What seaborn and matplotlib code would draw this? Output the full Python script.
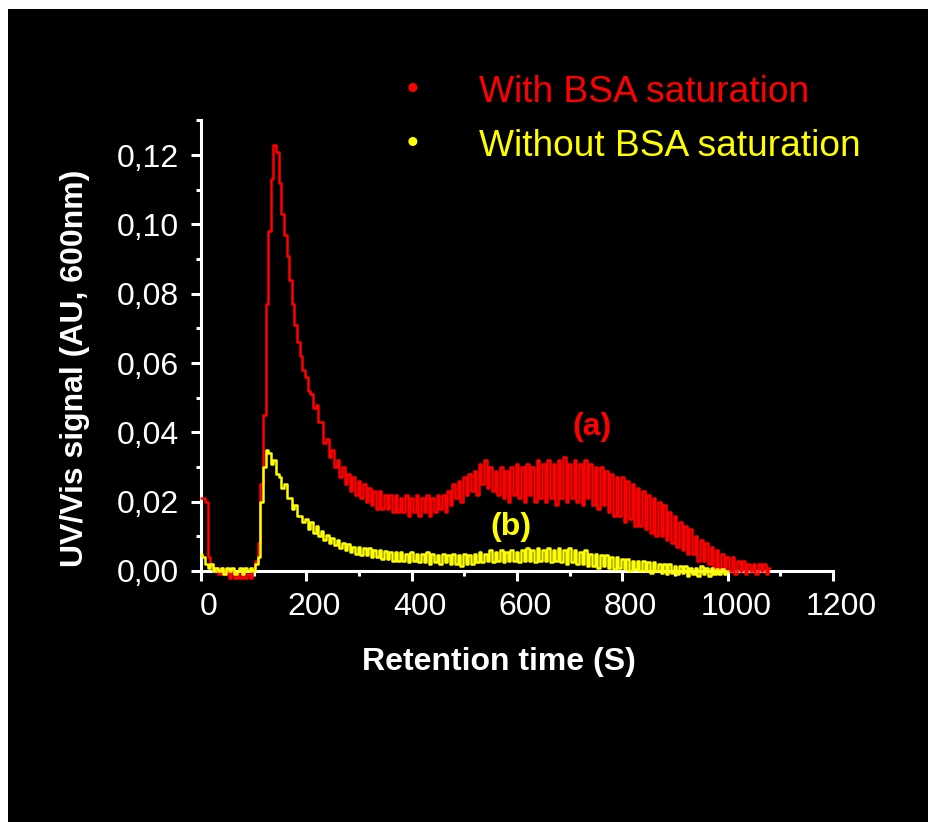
import numpy as np
import pandas as pd
import matplotlib
matplotlib.use("Agg")
import matplotlib.pyplot as plt
import seaborn as sns
from matplotlib.ticker import MultipleLocator, FuncFormatter
from matplotlib.patches import Rectangle
from matplotlib.transforms import ScaledTranslation

# Retention time (s) and UV/Vis signal (AU)
t_red = [0, 5, 10, 15, 20, 25, 30, 35, 40, 45, 50, 55, 60, 65, 70, 75, 80, 85, 90, 95,
         100, 105, 110, 115, 120, 125, 130, 135, 140, 145, 150, 155, 160, 165, 170, 175,
         180, 185, 190, 195, 200, 205, 210, 215, 220, 225, 230, 235, 240, 245, 250, 255,
         260, 265, 270, 275, 280, 285, 290, 295, 300, 305, 310, 315, 320, 325, 330, 335,
         340, 345, 350, 355, 360, 365, 370, 375, 380, 385, 390, 395, 400, 405, 410, 415,
         420, 425, 430, 435, 440, 445, 450,
         455, 460, 465, 470, 475, 480, 485, 490, 495, 500, 505, 510, 515, 520, 525, 530,
         535, 540, 545, 550, 555, 560, 565, 570, 575, 580, 585, 590, 595, 600, 605, 610,
         615, 620, 625, 630, 635, 640, 645, 650, 655, 660, 665, 670, 675, 680, 685, 690,
         695, 700, 705, 710, 715, 720, 725, 730, 735, 740, 745, 750, 755, 760, 765, 770,
         775, 780, 785, 790, 795, 800, 805, 810, 815, 820, 825, 830, 835, 840, 845, 850,
         855, 860, 865, 870, 875, 880, 885, 890, 895, 900, 905, 910, 915, 920, 925, 930,
         935, 940, 945, 950, 955, 960, 965, 970, 975, 980, 985, 990, 995, 1000, 1005, 1010,
         1015, 1020, 1025, 1030, 1035, 1040, 1045, 1050, 1055, 1060, 1065, 1070, 1075, 1080]
uv_red = [0.021, 0.021, 0.020, 0.004, 0.002, 0.000, 0.001, -0.001, 0.001, -0.001,
          0.000, -0.002, 0.000, -0.002, -0.001, -0.002, 0.000, -0.002, -0.001, -0.002,
          0.001, 0.003, 0.008, 0.025, 0.045, 0.077, 0.098, 0.113, 0.123, 0.121,
          0.112, 0.103, 0.097, 0.091, 0.084, 0.077, 0.071, 0.066, 0.062, 0.058, 0.056,
          0.052, 0.051, 0.047, 0.048, 0.043, 0.043, 0.037, 0.038, 0.033, 0.035,
          0.030, 0.032, 0.027, 0.030, 0.025, 0.028, 0.023, 0.027, 0.022, 0.026,
          0.021, 0.025, 0.020, 0.024, 0.019, 0.023, 0.018, 0.023, 0.018, 0.022,
          0.018, 0.022, 0.017, 0.022, 0.017, 0.021, 0.017, 0.022, 0.016, 0.021,
          0.017, 0.022, 0.016, 0.021, 0.017, 0.022, 0.016, 0.021, 0.017, 0.022,
          0.018, 0.022, 0.017, 0.023, 0.019, 0.025, 0.021, 0.026, 0.020, 0.027, 0.022, 0.028,
          0.023, 0.029, 0.022, 0.031, 0.025, 0.032, 0.024, 0.030, 0.023, 0.029, 0.022, 0.030,
          0.021, 0.029, 0.020, 0.030, 0.022, 0.031, 0.021, 0.030, 0.020, 0.031, 0.022, 0.030,
          0.020, 0.032, 0.021, 0.031, 0.020, 0.032, 0.021, 0.031, 0.019, 0.032, 0.021, 0.033,
          0.020, 0.031, 0.021, 0.032, 0.020, 0.031, 0.019, 0.032, 0.021, 0.031, 0.019, 0.030,
          0.018, 0.030, 0.019, 0.029, 0.017, 0.028, 0.016, 0.027, 0.016, 0.027, 0.014, 0.026,
          0.015, 0.025, 0.013, 0.024, 0.013, 0.023, 0.012, 0.022, 0.011, 0.021, 0.010, 0.020,
          0.010, 0.019, 0.009, 0.017, 0.008, 0.016, 0.007, 0.014, 0.006, 0.013, 0.005, 0.012,
          0.005, 0.010, 0.003, 0.009, 0.003, 0.008, 0.002, 0.007, 0.001, 0.006, 0.001, 0.005,
          0.000, 0.004, 0.000, 0.004, -0.001, 0.003, 0.000, 0.003, -0.001, 0.002, 0.000, 0.002,
          -0.001, 0.002, 0.000, 0.002, -0.001, 0.001]

t_yel = [0, 5, 10, 15, 20, 25, 30, 35, 40, 45, 50, 55, 60, 65, 70, 75, 80, 85, 90, 95,
         100, 105, 110, 115, 120, 125, 130, 135, 140, 145, 150, 155, 160, 165, 170, 175,
         180, 185, 190, 195, 200,
         205, 210, 215, 220, 225, 230, 235, 240, 245, 250,
         255, 260, 265, 270, 275, 280, 285, 290, 295, 300,
         305, 310, 315, 320, 325, 330, 335, 340, 345, 350,
         355, 360, 365, 370, 375, 380, 385, 390, 395, 400,
         405, 410, 415, 420, 425, 430, 435, 440, 445, 450,
         455, 460, 465, 470, 475, 480, 485, 490, 495, 500,
         505, 510, 515, 520, 525, 530, 535, 540, 545, 550,
         555, 560, 565, 570, 575, 580, 585, 590, 595, 600,
         605, 610, 615, 620, 625, 630, 635, 640, 645, 650,
         655, 660, 665, 670, 675, 680, 685, 690, 695, 700,
         705, 710, 715, 720, 725, 730, 735, 740, 745, 750,
         755, 760, 765, 770, 775, 780, 785, 790, 795, 800,
         805, 810, 815, 820, 825, 830, 835, 840, 845, 850,
         855, 860, 865, 870, 875, 880, 885, 890, 895, 900,
         905, 910, 915, 920, 925, 930, 935, 940, 945, 950,
         955, 960, 965, 970, 975, 980, 985, 990, 995, 1000]
uv_yel = [0.005, 0.004, 0.002, 0.001, 0.002, 0.000, 0.001, 0.000, 0.001, -0.001,
          0.001, 0.000, 0.001, -0.001, 0.000, 0.001, -0.001, 0.001, 0.000, 0.001,
          0.000, 0.002, 0.004, 0.020, 0.030, 0.035, 0.034, 0.031, 0.032, 0.028,
          0.027, 0.024, 0.025, 0.021, 0.021, 0.018, 0.019, 0.016, 0.016, 0.014, 0.015,
          0.012, 0.014, 0.011, 0.013, 0.010, 0.0115, 0.009, 0.0105, 0.008, 0.0095,
          0.0075, 0.009, 0.0065, 0.008, 0.006, 0.0078, 0.0055, 0.007, 0.005, 0.007,
          0.0045, 0.0065, 0.0045, 0.0065, 0.004, 0.006, 0.004, 0.006, 0.0035, 0.0058,
          0.0035, 0.0055, 0.003, 0.0055, 0.003, 0.0055, 0.003, 0.005, 0.0025, 0.0055,
          0.003, 0.005, 0.0025, 0.005, 0.0025, 0.0055, 0.002, 0.005, 0.0025, 0.0045,
          0.002, 0.005, 0.0025, 0.0045, 0.002, 0.005, 0.002, 0.0045, 0.0015, 0.005,
          0.002, 0.0045, 0.002, 0.005, 0.0025, 0.0055, 0.0025, 0.005, 0.003, 0.006,
          0.0025, 0.0055, 0.003, 0.006, 0.0025, 0.0055, 0.003, 0.006, 0.003, 0.0055,
          0.0025, 0.006, 0.003, 0.0065, 0.003, 0.006, 0.0025, 0.0065, 0.003, 0.006,
          0.003, 0.0065, 0.0025, 0.006, 0.003, 0.0065, 0.0025, 0.006, 0.002, 0.0065,
          0.0025, 0.006, 0.002, 0.0055, 0.002, 0.006, 0.0015, 0.005, 0.0015, 0.005,
          0.001, 0.0045, 0.0015, 0.0045, 0.001, 0.004, 0.0005, 0.004, 0.001, 0.0035,
          0.0005, 0.0035, 0.000, 0.003, 0.0005, 0.003, 0.000, 0.003, 0.000, 0.0025,
          -0.0005, 0.0025, 0.000, 0.002, -0.0005, 0.002, -0.001, 0.002, -0.0005, 0.0015,
          -0.001, 0.0015, -0.0005, 0.0015, -0.0015, 0.001, -0.001, 0.001, -0.0015, 0.0015,
          -0.001, 0.001, -0.0015, 0.001, -0.001, 0.0005, -0.001, 0.0005, -0.001, 0.000]

label_red = "With BSA saturation"
label_yel = "Without BSA saturation"
red = "#ff0000"
yellow = "#ffff00"

sns.set_style("ticks")
plt.rcParams['font.family'] = ['Liberation Sans', 'DejaVu Sans']

W, H = 929, 822
fig = plt.figure(figsize=(W / 100, H / 100), dpi=100, facecolor='white')
# black slide area with a thin white margin on the left and top
fig.patches.append(Rectangle((8 / W, 0), 1 - 8 / W, 1 - 9 / H, transform=fig.transFigure,
                             facecolor='black', edgecolor='none', zorder=-10))

ax = fig.add_axes([201 / W, 1 - 571 / H, (833 - 201) / W, (571 - 120.5) / H])
ax.set_facecolor('none')

df_red = pd.DataFrame({'t': t_red, 'uv': uv_red})
df_yel = pd.DataFrame({'t': t_yel, 'uv': uv_yel})
sns.lineplot(data=df_red, x='t', y='uv', ax=ax, color=red, lw=1.8, estimator=None,
             drawstyle='steps-mid', clip_on=False)
sns.lineplot(data=df_yel, x='t', y='uv', ax=ax, color=yellow, lw=1.8, estimator=None,
             drawstyle='steps-mid', clip_on=False)

ax.set_xlim(0, 1200)
ax.set_ylim(0, 0.13)
ax.xaxis.set_major_locator(MultipleLocator(200))
ax.xaxis.set_minor_locator(MultipleLocator(100))
ax.yaxis.set_major_locator(MultipleLocator(0.02))
ax.yaxis.set_minor_locator(MultipleLocator(0.01))
ax.yaxis.set_major_formatter(FuncFormatter(lambda v, p: f"{v:.2f}".replace('.', ',')))

for side in ['top', 'right']:
    ax.spines[side].set_visible(False)
for side in ['left', 'bottom']:
    ax.spines[side].set_color('white')
    ax.spines[side].set_linewidth(2.2)
    ax.spines[side].set_zorder(1)
ax.tick_params(which='major', direction='out', length=7, width=2.2, colors='white',
               labelsize=23, labelcolor='white')
ax.tick_params(which='minor', direction='out', length=3.5, width=2.2, colors='white')
ax.tick_params(axis='y', pad=9)
ax.tick_params(axis='x', pad=8)

ax.set_xlabel("Retention time (S)", fontsize=23, fontweight='bold', color='white')
ax.set_ylabel("UV/Vis signal (AU, 600nm)", fontsize=23, fontweight='bold', color='white')
ax.xaxis.set_label_coords(0.4715, -0.168)
ax.yaxis.set_label_coords(-0.176, 0.45)

fig.text(592 / W, 1 - 427 / H, "(a)", color=red, fontsize=23, fontweight='bold',
         ha='center', va='center')
fig.text(511 / W, 1 - 527 / H, "(b)", color=yellow, fontsize=23, fontweight='bold',
         ha='center', va='center')

# bullet legend
fig.text(413 / W, 1 - 90 / H, "•", color=red, fontsize=24, ha='center', va='center')
fig.text(479 / W, 1 - 92 / H, label_red, color=red, fontsize=26.7, ha='left', va='center')
fig.text(413 / W, 1 - 144 / H, "•", color=yellow, fontsize=24, ha='center', va='center')
fig.text(479 / W, 1 - 146 / H, label_yel, color=yellow, fontsize=26.7, ha='left', va='center')

# x tick labels sit a little right of their ticks in the original
fig.canvas.draw()
shift = ScaledTranslation(0.08, 0, fig.dpi_scale_trans)
for lab in ax.get_xticklabels():
    lab.set_transform(lab.get_transform() + shift)

fig.savefig("out.png", dpi=100, facecolor=fig.get_facecolor())
